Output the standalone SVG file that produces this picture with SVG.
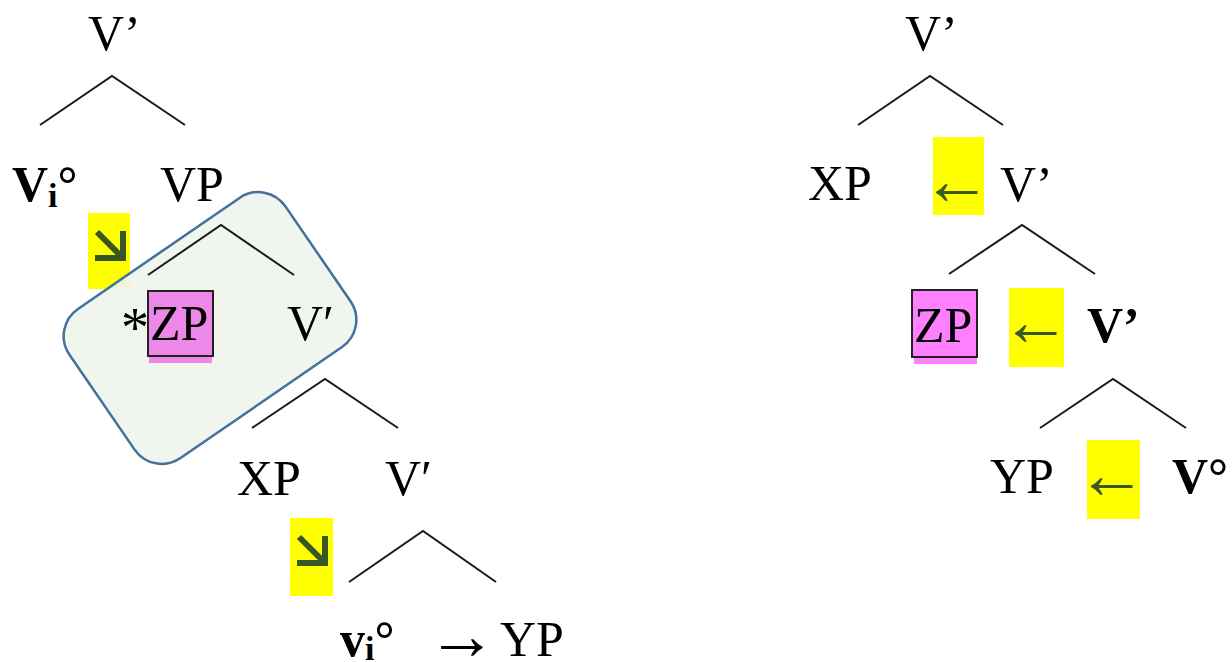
<svg xmlns="http://www.w3.org/2000/svg" width="1232" height="662" viewBox="0 0 1232 662">
  <style>
    .t { font-family: "Liberation Serif", "Times New Roman", serif; font-size: 50px; fill: #000; }
    .b { font-weight: bold; }
    .edge { stroke: #1a1a1a; stroke-width: 2; fill: none; }
    .hl { fill: #ffff00; }
    .garr { stroke: #375623; stroke-width: 6; fill: none; stroke-linecap: butt; stroke-linejoin: miter; }
    .larr { font-family: "Liberation Serif", "Times New Roman", serif; font-size: 70px; fill: #3a5a24; }
    .zp { stroke: #222; stroke-width: 2; }
  </style>

  <!-- highlights under the bubble -->
  <g id="hl-left1">
    <rect class="hl" x="88" y="213" width="42" height="76"/>
    <path class="garr" d="M97,232 L121,256 M123,231 L123,258 L95,258"/>
  </g>

  <!-- bubble -->
  <g id="bubble">
    <rect x="-131" y="-90.5" width="262" height="181" rx="33" transform="translate(210,328) rotate(-34.5)" fill="#eef4ec" fill-opacity="0.9" stroke="#41719c" stroke-width="2.5"/>
  </g>

  <!-- connectors -->
  <g id="connectors">
    <polyline class="edge" points="40,125 112,76 185,125"/>
    <polyline class="edge" points="148,275 221,225 294,275"/>
    <polyline class="edge" points="252,428 325,379 398,428"/>
    <polyline class="edge" points="349,582 423,531 496,582"/>
    <polyline class="edge" points="858,125 930,76 1003,125"/>
    <polyline class="edge" points="949,274 1022,225 1095,274"/>
    <polyline class="edge" points="1040,428 1113,379 1186,428"/>
  </g>

  <!-- left tree -->
  <g id="l-vbar-top"><text class="t" x="88" y="50">V’</text></g>
  <g id="l-vi0"><text class="t b" x="12" y="201">V<tspan style="font-size:34px" dy="6">i</tspan><tspan dy="-6">°</tspan></text></g>
  <g id="l-vp"><text class="t" x="160" y="201">VP</text></g>
  <g id="l-zp">
    <text class="t" x="121" y="347" style="font-size:56px">*</text>
    <rect x="149" y="357" width="63" height="6" fill="#ee88e8"/>
    <rect class="zp" x="148" y="291" width="65" height="65" fill="#ee88e8"/>
    <text class="t" x="150" y="340">ZP</text>
  </g>
  <g id="l-vbar-mid"><text class="t" x="287" y="340">V′</text></g>
  <g id="l-xp"><text class="t" x="237" y="495">XP</text></g>
  <g id="l-vbar-low"><text class="t" x="385" y="495">V′</text></g>
  <g id="hl-left2">
    <rect class="hl" x="290" y="518" width="43" height="78"/>
    <path class="garr" d="M299,537 L323,561 M325,536 L325,563 L297,563"/>
  </g>
  <g id="l-vi0-low"><text class="t b" x="340" y="656">v<tspan style="font-size:34px" dy="4">i</tspan><tspan dy="-4">°</tspan></text></g>
  <g id="l-yp">
    <text class="t" x="427" y="659" style="font-size:70px">→</text>
    <text class="t" x="500" y="656">YP</text>
  </g>

  <!-- right tree -->
  <g id="r-vbar-top"><text class="t" x="905" y="50">V’</text></g>
  <g id="r-xp"><text class="t" x="808" y="200">XP</text></g>
  <g id="hl-r1">
    <rect class="hl" x="933" y="137" width="51" height="78"/>
    <text class="larr" x="922" y="204">←</text>
  </g>
  <g id="r-vbar-1"><text class="t" x="1000" y="201">V’</text></g>
  <g id="r-zp">
    <rect x="914" y="357" width="63" height="7" fill="#ff80ff"/>
    <rect class="zp" x="912" y="290" width="65" height="67" fill="#ff80ff"/>
    <text class="t" x="914" y="342">ZP</text>
  </g>
  <g id="hl-r2">
    <rect class="hl" x="1009" y="288" width="55" height="79"/>
    <text class="larr" x="1001" y="345">←</text>
  </g>
  <g id="r-vbar-2"><text class="t b" x="1087" y="342">V’</text></g>
  <g id="r-yp"><text class="t" x="990" y="493">YP</text></g>
  <g id="hl-r3">
    <rect class="hl" x="1087" y="440" width="53" height="79"/>
    <text class="larr" x="1077" y="498">←</text>
  </g>
  <g id="r-v0"><text class="t b" x="1172" y="493">V°</text></g>
</svg>
